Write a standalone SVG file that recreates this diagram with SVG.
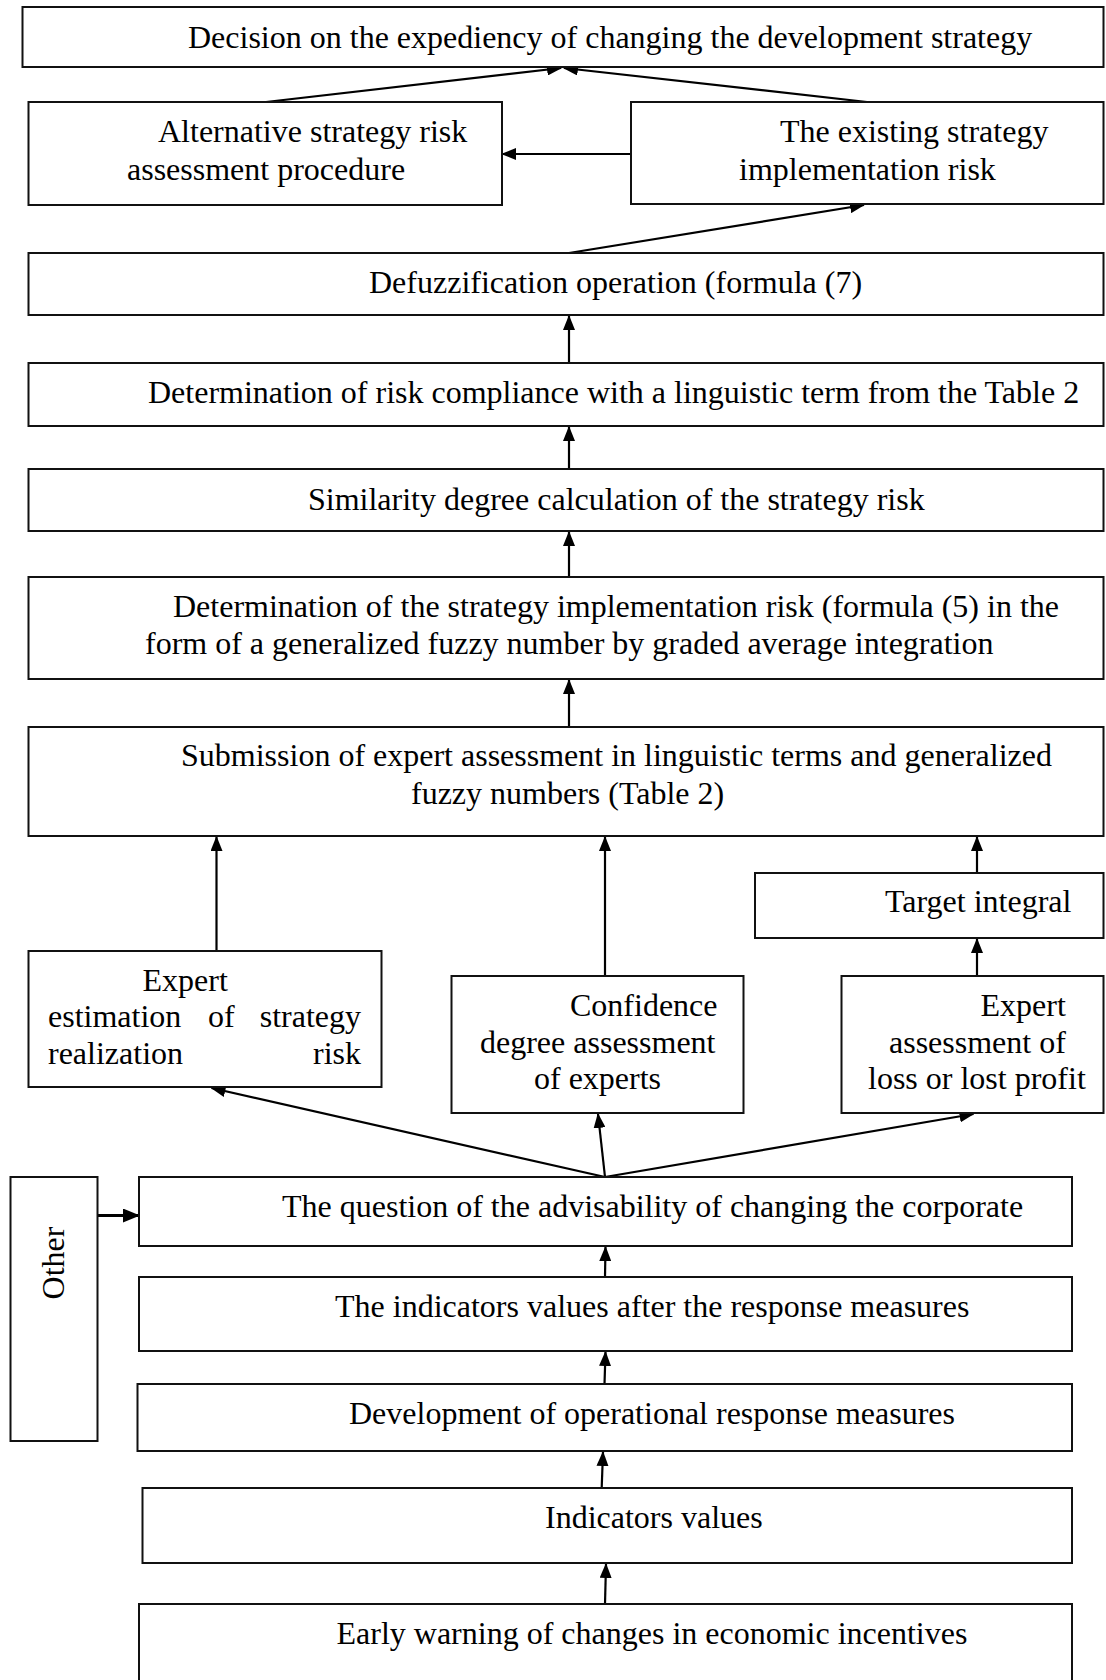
<svg xmlns="http://www.w3.org/2000/svg" width="1106" height="1680" viewBox="0 0 1106 1680">
<style>
.box{fill:#fff;stroke:#111;stroke-width:2}
.t{font-family:"Liberation Serif","Times New Roman",serif;font-size:32px;fill:#000}
.e{text-anchor:end}
.c{fill:none;stroke:#000;stroke-width:2.2;marker-end:url(#ah)}
.c3{fill:none;stroke:#000;stroke-width:3.2;marker-end:url(#ah2)}
</style>
<defs>
<marker id="ah" markerUnits="userSpaceOnUse" viewBox="0 0 15 12" refX="14" refY="6" markerWidth="15" markerHeight="12" orient="auto">
<path d="M0,0 L15,6 L0,12 z" fill="#000"/>
</marker>
<marker id="ah2" markerUnits="userSpaceOnUse" viewBox="0 0 17 14" refX="16" refY="7" markerWidth="17" markerHeight="14" orient="auto">
<path d="M0,0 L17,7 L0,14 z" fill="#000"/>
</marker>
</defs>
<rect width="1106" height="1680" fill="#fff"/>

<g id="connectors">
<line class="c" x1="266" y1="102" x2="561" y2="68"/>
<line class="c" x1="867" y1="102" x2="564" y2="68"/>
<line class="c" x1="631" y1="154" x2="502" y2="154"/>
<line class="c" x1="569" y1="253" x2="864" y2="205"/>
<line class="c" x1="569" y1="363" x2="569" y2="316"/>
<line class="c" x1="569" y1="469" x2="569" y2="427"/>
<line class="c" x1="569" y1="577" x2="569" y2="532"/>
<line class="c" x1="569" y1="727" x2="569" y2="680"/>
<line class="c" x1="216.5" y1="951" x2="216.5" y2="837"/>
<line class="c" x1="605" y1="976" x2="605" y2="837"/>
<line class="c" x1="977" y1="873" x2="977" y2="837"/>
<line class="c" x1="977" y1="976" x2="977" y2="939"/>
<line class="c" x1="605" y1="1177" x2="211.5" y2="1088"/>
<line class="c" x1="605" y1="1177" x2="598" y2="1114"/>
<line class="c" x1="605" y1="1177" x2="973.5" y2="1114"/>
<line class="c3" x1="97.5" y1="1215.5" x2="139" y2="1215.5"/>
<line class="c" x1="605" y1="1277" x2="605.5" y2="1247"/>
<line class="c" x1="604.5" y1="1384" x2="605.5" y2="1352"/>
<line class="c" x1="601.7" y1="1488" x2="603" y2="1452"/>
<line class="c" x1="605" y1="1604" x2="606" y2="1564"/>
</g>

<g id="n-decision">
<rect class="box" x="22.5" y="7" width="1081" height="60"/>
<text class="t" x="188" y="48">Decision on the expediency of changing the development strategy</text>
</g>
<g id="n-alternative">
<rect class="box" x="28.5" y="102" width="473.5" height="103"/>
<text class="t" x="158" y="142">Alternative strategy risk</text>
<text class="t" x="127" y="180">assessment procedure</text>
</g>
<g id="n-existing">
<rect class="box" x="631" y="102" width="472.5" height="102"/>
<text class="t" x="780" y="142">The existing strategy</text>
<text class="t" x="739" y="180">implementation risk</text>
</g>
<g id="n-defuzz">
<rect class="box" x="28.5" y="253" width="1075" height="62"/>
<text class="t" x="369" y="293">Defuzzification operation (formula (7)</text>
</g>
<g id="n-compliance">
<rect class="box" x="28.5" y="363" width="1075" height="63"/>
<text class="t" x="148" y="403">Determination of risk compliance with a linguistic term from the Table 2</text>
</g>
<g id="n-similarity">
<rect class="box" x="28.5" y="469" width="1075" height="62"/>
<text class="t" x="308" y="510">Similarity degree calculation of the strategy risk</text>
</g>
<g id="n-determination">
<rect class="box" x="28.5" y="577" width="1075" height="102"/>
<text class="t" x="173" y="617">Determination of the strategy implementation risk (formula (5) in the</text>
<text class="t" x="145" y="654">form of a generalized fuzzy number by graded average integration</text>
</g>
<g id="n-submission">
<rect class="box" x="28.5" y="727" width="1075" height="109"/>
<text class="t" x="181" y="766">Submission of expert assessment in linguistic terms and generalized</text>
<text class="t" x="411" y="804">fuzzy numbers (Table 2)</text>
</g>
<g id="n-target">
<rect class="box" x="755" y="873" width="348.5" height="65"/>
<text class="t" x="885" y="912">Target integral</text>
</g>
<g id="n-expert-risk">
<rect class="box" x="28.5" y="951" width="353" height="136"/>
<text class="t" x="142.5" y="991">Expert</text>
<text class="t" x="48" y="1027">estimation</text>
<text class="t" x="208" y="1027">of</text>
<text class="t e" x="361" y="1027">strategy</text>
<text class="t" x="48" y="1064">realization</text>
<text class="t e" x="361" y="1064">risk</text>
</g>
<g id="n-confidence">
<rect class="box" x="451.5" y="976" width="292" height="137"/>
<text class="t" x="570" y="1016">Confidence</text>
<text class="t" x="480" y="1053">degree assessment</text>
<text class="t" x="534" y="1089">of experts</text>
</g>
<g id="n-expert-loss">
<rect class="box" x="841.5" y="976" width="262" height="137"/>
<text class="t" x="980.5" y="1016">Expert</text>
<text class="t" x="889" y="1053">assessment of</text>
<text class="t" x="868" y="1089">loss or lost profit</text>
</g>
<g id="n-other">
<rect class="box" x="10.5" y="1177" width="87" height="264"/>
<text class="t" transform="translate(63.5,1263) rotate(-90)" text-anchor="middle" x="0" y="0">Other</text>
</g>
<g id="n-question">
<rect class="box" x="139" y="1177" width="933" height="69"/>
<text class="t" x="282" y="1217">The question of the advisability of changing the corporate</text>
</g>
<g id="n-ind-after">
<rect class="box" x="139" y="1277" width="933" height="74"/>
<text class="t" x="335" y="1317">The indicators values after the response measures</text>
</g>
<g id="n-development">
<rect class="box" x="137.5" y="1384" width="934.5" height="67"/>
<text class="t" x="349" y="1424">Development of operational response measures</text>
</g>
<g id="n-ind-values">
<rect class="box" x="142.5" y="1488" width="929.5" height="75"/>
<text class="t" x="545" y="1528">Indicators values</text>
</g>
<g id="n-early">
<rect class="box" x="139" y="1604" width="933" height="100"/>
<text class="t" x="336.5" y="1644">Early warning of changes in economic incentives</text>
</g>
</svg>
